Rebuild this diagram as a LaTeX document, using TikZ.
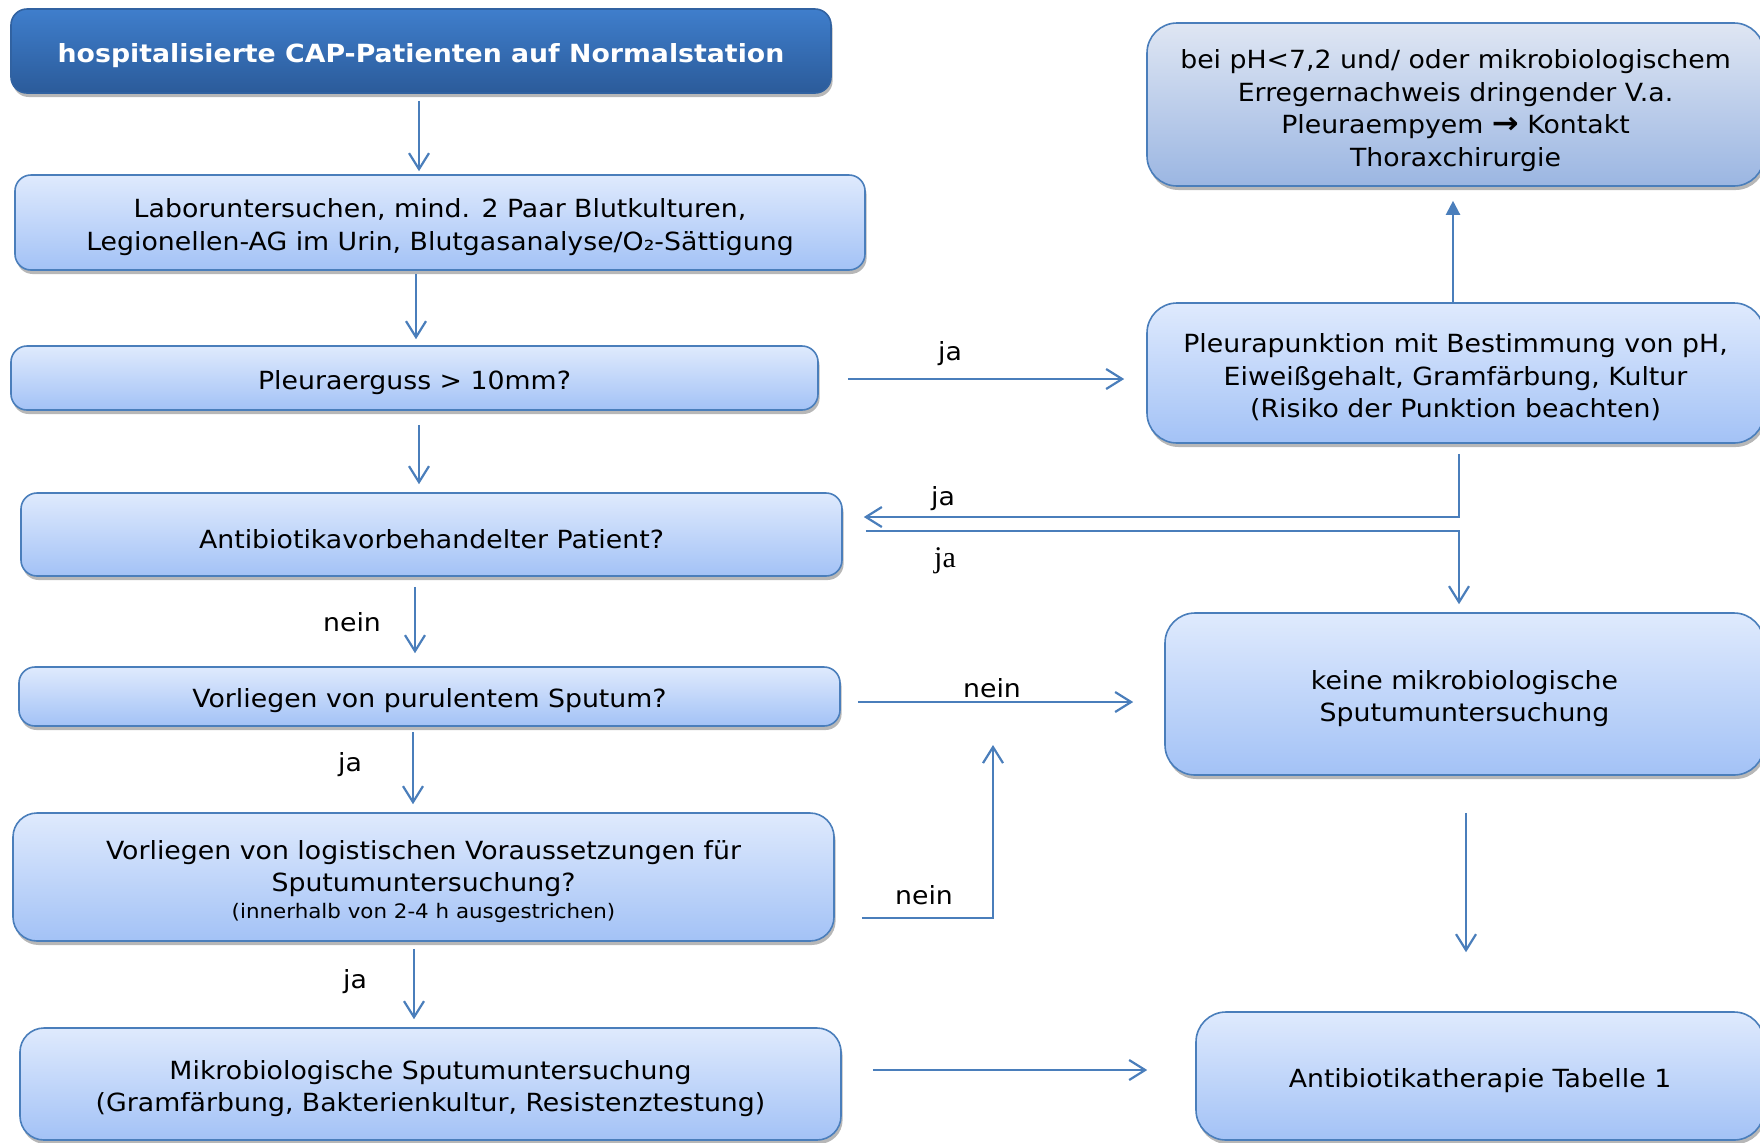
\documentclass[tikz,border=0pt]{standalone}
\usepackage{fontspec}
\setmainfont{DejaVu Sans}[FakeStretch=1.07]
\newfontfamily\serifja{Liberation Serif}
\usetikzlibrary{arrows.meta,calc,shadows}
\definecolor{lnblue}{HTML}{4A7EBB}
\definecolor{boxtop}{HTML}{DFEAFD}
\definecolor{boxbot}{HTML}{A3C2F6}
\definecolor{grtop}{HTML}{DFE6F3}
\definecolor{grbot}{HTML}{9BB6E2}
\definecolor{ttop}{HTML}{3F7ECC}
\definecolor{tbot}{HTML}{2B5B9A}
\newcommand{\dn}{\rule{0pt}{14pt}}
\newcommand{\bigarrow}{{\fontsize{15}{16}\selectfont\bfseries →}}
\begin{document}
\begin{tikzpicture}[x=0.5pt,y=-0.5pt,
  box/.style={draw=lnblue, line width=0.8pt, rounded corners=8pt,
    top color=boxtop, bottom color=boxbot, align=center, inner sep=0pt,
    font=\fontsize{12.5}{16.2}\selectfont,
    drop shadow={shadow xshift=0.8pt, shadow yshift=-2pt, opacity=0.4, fill=black!70}},
  greybox/.style={box, top color=grtop, bottom color=grbot},
  titlebox/.style={box, top color=ttop, bottom color=tbot, draw=tbot!80!lnblue,
    text=white, font=\fontsize{12.5}{15}\selectfont\bfseries},
  arr/.style={draw=lnblue, line width=1.1pt, -{Straight Barb[length=8pt,width=10pt,line width=1.1pt]}},
  arrf/.style={draw=lnblue, line width=1.1pt, -{Triangle[length=7pt,width=7pt]}},
  lbl/.style={font=\fontsize{12.5}{15}\selectfont, inner sep=0pt}
]
\useasboundingbox (0,0) rectangle (1760,1142);

% left column
\node[titlebox, minimum width=410pt, minimum height=42pt] (title) at (421,51)
  {\dn hospitalisierte CAP-Patienten auf Normalstation};
\node[box, minimum width=425pt, minimum height=47.5pt] (lab) at (440,222.5)
  {\dn Laboruntersuchen, mind. 2 Paar Blutkulturen,\\Legionellen-AG im Urin, Blutgasanalyse/O₂-Sättigung};
\node[box, minimum width=403.5pt, minimum height=32pt] (erguss) at (414.5,378)
  {\dn Pleuraerguss > 10mm?};
\node[box, minimum width=410.5pt, minimum height=41.5pt] (antib) at (431.5,534.5)
  {\dn Antibiotikavorbehandelter Patient?};
\node[box, minimum width=410.5pt, minimum height=29.5pt] (sputum) at (429.5,696.5)
  {\dn Vorliegen von purulentem Sputum?};
\node[box, rounded corners=12pt, minimum width=410.5pt, minimum height=64pt] (logist) at (423.5,877)
  {\dn Vorliegen von logistischen Voraussetzungen für\\Sputumuntersuchung?\\[-3pt]{\fontsize{10}{12}\selectfont (innerhalb von 2-4 h ausgestrichen)}};
\node[box, rounded corners=12pt, minimum width=410.5pt, minimum height=56pt] (mikro) at (430.5,1084)
  {\dn Mikrobiologische Sputumuntersuchung\\(Gramfärbung, Bakterienkultur, Resistenztestung)};

% right column
\node[greybox, rounded corners=15pt, minimum width=308.5pt, minimum height=81.5pt] (r1) at (1455.5,104.5)
  {\rule{0pt}{15.5pt}bei pH<7,2 und/ oder mikrobiologischem\\Erregernachweis dringender V.a.\\Pleuraempyem \bigarrow{} Kontakt\\Thoraxchirurgie};
\node[box, rounded corners=15pt, minimum width=308.5pt, minimum height=70pt] (r2) at (1455.5,373)
  {\dn Pleurapunktion mit Bestimmung von pH,\\Eiweißgehalt, Gramfärbung, Kultur\\(Risiko der Punktion beachten)};
\node[box, rounded corners=15pt, minimum width=299.5pt, minimum height=81pt] (r3) at (1464.5,694)
  {\dn keine mikrobiologische\\Sputumuntersuchung};
\node[box, rounded corners=15pt, minimum width=284pt, minimum height=64pt] (r4) at (1480,1076)
  {\dn Antibiotikatherapie Tabelle 1};

% vertical arrows left column
\draw[arr] ($(title.south)+(-2,7)$) -- ($(lab.north)+(-21,-3)$);
\draw[arr] ($(lab.south)+(-24,3)$) -- ($(erguss.north)+(1.5,-6)$);
\draw[arr] ($(erguss.south)+(4.5,14)$) -- ($(antib.north)+(-12.5,-8)$);
\draw[arr] ($(antib.south)+(-16.5,10)$) -- ($(sputum.north)+(-14.5,-13)$);
\draw[arr] ($(sputum.south)+(-16.5,5)$) -- ($(logist.north)+(-10.5,-8)$);
\draw[arr] ($(logist.south)+(-9.5,7)$) -- ($(mikro.north)+(-16.5,-8)$);

% horizontal / branching arrows
\draw[arr] ($(erguss.east)+(29,1)$) -- ($(r2.west)+(-22,6)$);
\draw[arrf] ($(r2.north)+(-2.5,0)$) -- ($(r1.south)+(-2.5,14)$);
\draw[arr] ($(r2.south)+(3.5,10)$) |- ($(antib.east)+(21,-17.5)$);
\draw[arr] ($(antib.east)+(23,-3.5)$) -| ($(r3.north)+(-5.5,-8)$);
\draw[arr] ($(sputum.east)+(17,5.5)$) -- ($(r3.west)+(-31,8)$);
\coordinate (m) at (993,745);
\draw[arr] ($(logist.east)+(27,41)$) -| (m);
\draw[arr] ($(r3.south)+(1.5,37)$) -- ($(r4.north)+(-14,-59)$);
\draw[arr] ($(mikro.east)+(31,-14)$) -- ($(r4.west)+(-48,-6)$);

% labels
\node[lbl] (l1) at (352,622) {nein};
\node[lbl] (l2) at (350,765) {ja};
\node[lbl] (l3) at (355,982) {ja};
\node[lbl] (l4) at (950,354) {ja};
\node[lbl] (l5) at (943,499) {ja};
\node[lbl, font=\fontsize{15}{17}\selectfont\serifja] (l6) at (945,561) {ja};
\node[lbl] (l7) at (992,688) {nein};
\node[lbl] (l8) at (924,895) {nein};
\end{tikzpicture}
\end{document}
